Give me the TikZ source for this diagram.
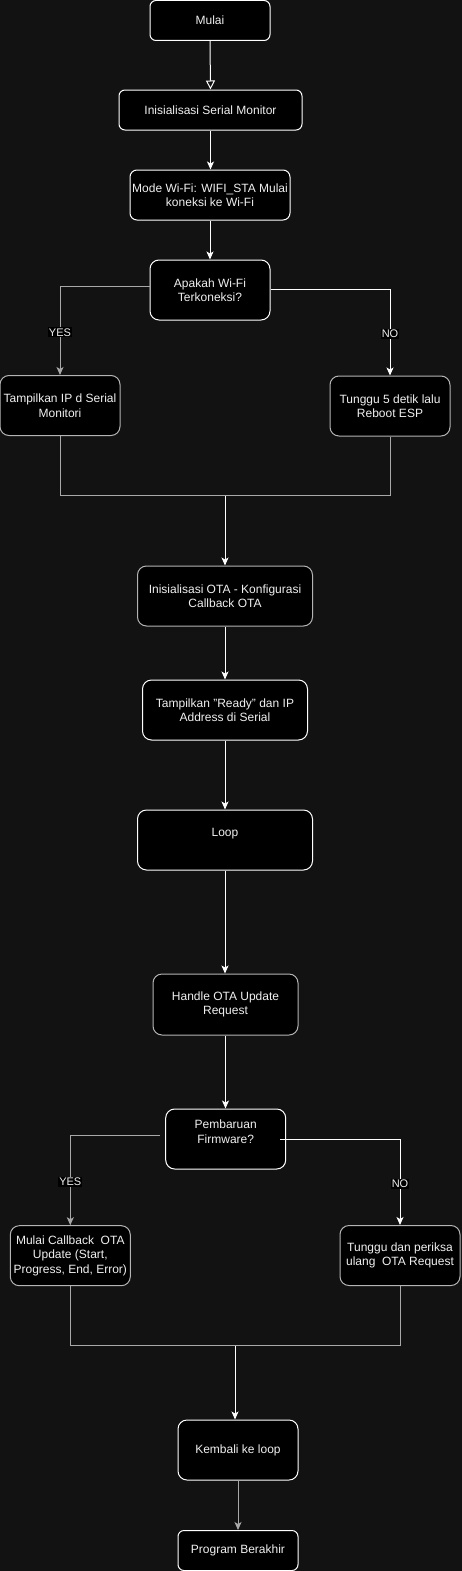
\documentclass[tikz,border=0pt]{standalone}
\usepackage{fontspec}
\setmainfont{Liberation Sans}
\usetikzlibrary{arrows.meta}
\definecolor{bgc}{HTML}{121212}
\definecolor{txt}{HTML}{F0F0F0}
\definecolor{lgrey}{HTML}{A8A8A8}
\definecolor{bgrey}{HTML}{B4B4B4}
\tikzset{
  box/.style={draw=white, fill=black, line width=1pt, rounded corners=9pt,
    text=txt, align=center, font=\fontsize{12}{14.5}\selectfont, inner sep=0pt},
  gbox/.style={box, draw=bgrey},
  conn/.style={draw=white, line width=1pt, -{Stealth[length=8pt,width=7pt,inset=2pt]}},
  gconn/.style={conn, draw=lgrey},
  openconn/.style={draw=white, line width=1pt, -{Triangle[open,length=9pt,width=9pt]}},
  plain/.style={draw=lgrey, line width=1pt},
  lbl/.style={fill=black, text=txt, font=\fontsize{11}{13}\selectfont, inner sep=1pt}
}
\begin{document}
\begin{tikzpicture}[x=1pt,y=-1pt]
\fill[bgc] (0,0) rectangle (462,1571);
\useasboundingbox (0,0) rectangle (462,1571);

\node[box, rounded corners=6pt, minimum width=120pt, minimum height=40pt] (mulai) at (210,20.5) {Mulai};
\node[box, rounded corners=6pt, minimum width=183pt, minimum height=40pt] (init) at (210.5,110) {Inisialisasi Serial Monitor};
\node[box, rounded corners=7pt, minimum width=160pt, minimum height=50pt] (mode) at (210,195) {Mode Wi-Fi: WIFI\_STA Mulai\\koneksi ke Wi-Fi};
\node[box, minimum width=120pt, minimum height=60pt] (apakah) at (210,290) {Apakah Wi-Fi\\Terkoneksi?};
\node[gbox, minimum width=120pt, minimum height=60pt] (tip) at (60,405.5) {Tampilkan IP d Serial\\Monitori};
\node[gbox, minimum width=120pt, minimum height=60pt] (tunggu) at (390,406) {Tunggu 5 detik lalu\\Reboot ESP};
\node[gbox, minimum width=175pt, minimum height=60pt] (ota) at (225,596) {Inisialisasi OTA - Konfigurasi\\Callback OTA};
\node[box, minimum width=165pt, minimum height=60pt] (ready) at (225,710) {Tampilkan "Ready" dan IP\\Address di Serial};
\node[box, minimum width=175pt, minimum height=60pt] (loop) at (225,840) {Loop\\\mbox{}};
\node[gbox, minimum width=145pt, minimum height=61pt] (handle) at (225.5,1004.5) {Handle OTA Update\\Request};
\node[box, minimum width=120pt, minimum height=60pt] (pemb) at (225.7,1139) {Pembaruan\\Firmware?\\\mbox{}};
\node[gbox, minimum width=120pt, minimum height=60pt] (callback) at (70.3,1255.7) {Mulai Callback\ \ OTA\\Update (Start,\\Progress, End, Error)};
\node[gbox, minimum width=120pt, minimum height=60pt] (tunggudan) at (400,1255.5) {Tunggu dan periksa\\ulang\ \ OTA Request};
\node[box, minimum width=120pt, minimum height=60pt] (kembali) at (238,1450) {Kembali ke loop};
\node[box, rounded corners=6pt, minimum width=120pt, minimum height=40pt] (program) at (238,1550.5) {Program Berakhir};

\coordinate (j1) at (225,495.5);
\coordinate (j2) at (235,1345.7);

\draw[openconn] (mulai.south) -- (init.north);
\draw[conn] (init.south) -- (init.south |- mode.north);
\draw[conn] (mode.south) -- (apakah.north);
\draw[gconn] ([yshift=4pt]apakah.west) -| (tip.north) node[lbl, pos=0.76] (yes1) {YES};
\draw[conn] ([yshift=1pt]apakah.east) -| (tunggu.north) node[lbl, pos=0.758] (no1) {NO};
\draw[plain] (tip.south) |- (j1) -| (tunggu.south);
\draw[conn] (j1) -- (j1 |- ota.north);
\draw[conn] (ota.south) -- (ready.north);
\draw[conn] (ready.south) -- (loop.north);
\draw[conn] (loop.south) -- (loop.south |- handle.north);
\draw[conn] (handle.south) -- (handle.south |- pemb.north);
\draw[gconn] ([xshift=-5pt,yshift=3.3pt]pemb.west) -| (callback.north) node[lbl, pos=0.757] (yes2) {YES};
\draw[conn] ([xshift=-6pt]pemb.east) -| (tunggudan.north) node[lbl, pos=0.76] (no2) {NO};
\draw[plain] (callback.south) |- (j2) -| (tunggudan.south);
\draw[conn] (j2) -- (j2 |- kembali.north);
\draw[gconn] (kembali.south) -- (program.north);
\end{tikzpicture}
\end{document}
